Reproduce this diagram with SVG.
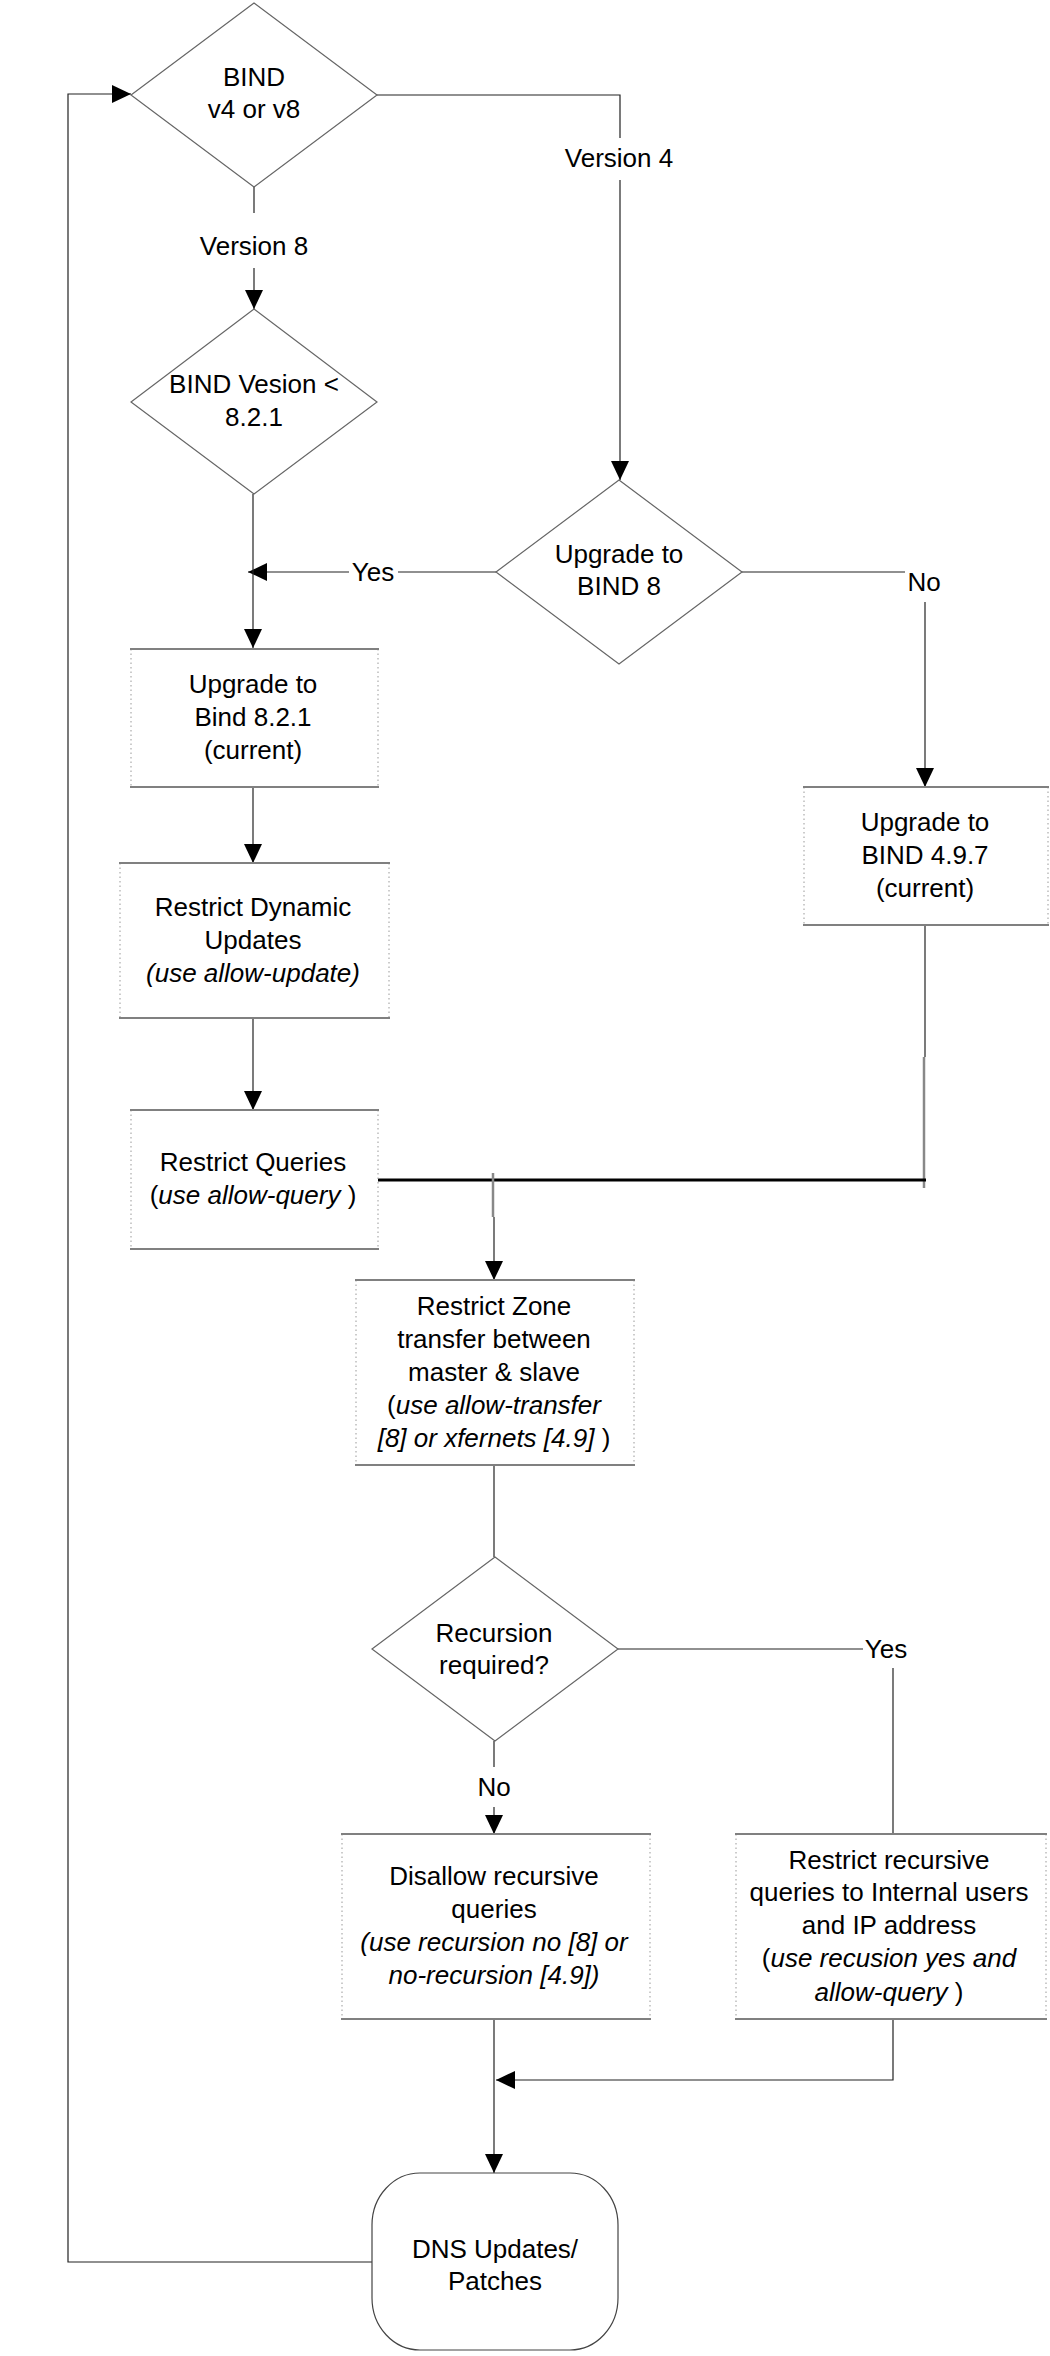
<svg xmlns="http://www.w3.org/2000/svg" width="1050" height="2356" viewBox="0 0 1050 2356">
<style>
text{font-family:"Liberation Sans",Arial,sans-serif;font-size:26px;fill:#000;text-anchor:middle}
.i{font-style:italic}
.dia{fill:#fff;stroke:#666;stroke-width:1.2}
.bx{fill:#fff;stroke:none}
.bt{stroke:#808080;stroke-width:2;fill:none}
.bs{stroke:#999;stroke-width:1;stroke-dasharray:1.5 3;fill:none}
.c{stroke:#222;stroke-width:1.2;fill:none}
.cg{stroke:#888;stroke-width:2.5;fill:none}
.ct{stroke:#000;stroke-width:3;fill:none}
.term{fill:#fff;stroke:#444;stroke-width:1.2}
</style>
<defs>
<marker id="ah" markerUnits="userSpaceOnUse" markerWidth="20" markerHeight="20" viewBox="0 0 20 20" refX="19" refY="10" orient="auto">
<path d="M0,1 L19,10 L0,19 Z" fill="#000"/>
</marker>
</defs>
<rect width="1050" height="2356" fill="#fff"/>

<g id="connectors">
<polyline class="c" points="377,95 620,95 620,138"/>
<line class="c" x1="620" y1="180" x2="620" y2="480" marker-end="url(#ah)"/>
<line class="c" x1="254" y1="187" x2="254" y2="213"/>
<line class="c" x1="254" y1="268" x2="254" y2="309" marker-end="url(#ah)"/>
<line class="c" x1="496" y1="572" x2="398" y2="572"/>
<line class="c" x1="349" y1="572" x2="248" y2="572" marker-end="url(#ah)"/>
<line class="c" x1="253" y1="494" x2="253" y2="648" marker-end="url(#ah)"/>
<line class="c" x1="742" y1="572" x2="905" y2="572"/>
<line class="c" x1="925" y1="602" x2="925" y2="787" marker-end="url(#ah)"/>
<line class="c" x1="253" y1="787" x2="253" y2="863" marker-end="url(#ah)"/>
<line class="c" x1="253" y1="1018" x2="253" y2="1110" marker-end="url(#ah)"/>
<line class="c" x1="925" y1="925" x2="925" y2="1057"/>
<line class="cg" x1="924" y1="1057" x2="924" y2="1188"/>
<line class="ct" x1="377" y1="1180" x2="926" y2="1180"/>
<line class="cg" x1="493" y1="1173" x2="493" y2="1217"/>
<line class="c" x1="494" y1="1217" x2="494" y2="1280" marker-end="url(#ah)"/>
<line class="c" x1="494" y1="1465" x2="494" y2="1557"/>
<line class="c" x1="618" y1="1649" x2="863" y2="1649"/>
<line class="c" x1="893" y1="1668" x2="893" y2="1834"/>
<line class="c" x1="494" y1="1741" x2="494" y2="1767"/>
<line class="c" x1="494" y1="1807" x2="494" y2="1834" marker-end="url(#ah)"/>
<line class="c" x1="494" y1="2019" x2="494" y2="2173" marker-end="url(#ah)"/>
<polyline class="c" points="893,2019 893,2080 496,2080" marker-end="url(#ah)"/>
<polyline class="c" points="372,2262 68,2262 68,94 131,94" marker-end="url(#ah)"/>
<text x="619" y="167">Version 4</text>
<text x="254" y="255">Version 8</text>
<text x="373" y="581">Yes</text>
<text x="924" y="591">No</text>
<text x="886" y="1658">Yes</text>
<text x="494" y="1796">No</text>
</g>

<g id="bind-version">
<polygon class="dia" points="254,3 377,95 254,187 131,95"/>
<text x="254" y="86">BIND</text>
<text x="254" y="118">v4 or v8</text>
</g>

<g id="bind-lt-821">
<polygon class="dia" points="254,309 377,402 254,494 131,402"/>
<text x="254" y="393">BIND Vesion &lt;</text>
<text x="254" y="426">8.2.1</text>
</g>

<g id="upgrade-bind8">
<polygon class="dia" points="619,480 742,572 619,664 496,572"/>
<text x="619" y="563">Upgrade to</text>
<text x="619" y="595">BIND 8</text>
</g>

<g id="upgrade-821">
<rect class="bx" x="131" y="649" width="247" height="138"/>
<line class="bs" x1="131" y1="649" x2="131" y2="787"/>
<line class="bs" x1="378" y1="649" x2="378" y2="787"/>
<line class="bt" x1="130" y1="649" x2="379" y2="649"/>
<line class="bt" x1="130" y1="787" x2="379" y2="787"/>
<text x="253" y="693">Upgrade to</text>
<text x="253" y="726">Bind 8.2.1</text>
<text x="253" y="759">(current)</text>
</g>

<g id="restrict-dynamic">
<rect class="bx" x="120" y="863" width="269" height="155"/>
<line class="bs" x1="120" y1="863" x2="120" y2="1018"/>
<line class="bs" x1="389" y1="863" x2="389" y2="1018"/>
<line class="bt" x1="119" y1="863" x2="390" y2="863"/>
<line class="bt" x1="119" y1="1018" x2="390" y2="1018"/>
<text x="253" y="916">Restrict Dynamic</text>
<text x="253" y="949">Updates</text>
<text x="253" y="982" class="i">(use allow-update)</text>
</g>

<g id="restrict-queries">
<rect class="bx" x="131" y="1110" width="247" height="139"/>
<line class="bs" x1="131" y1="1110" x2="131" y2="1249"/>
<line class="bs" x1="378" y1="1110" x2="378" y2="1249"/>
<line class="bt" x1="130" y1="1110" x2="379" y2="1110"/>
<line class="bt" x1="130" y1="1249" x2="379" y2="1249"/>
<text x="253" y="1171">Restrict Queries</text>
<text x="253" y="1204">(<tspan class="i">use allow-query</tspan> )</text>
</g>

<g id="upgrade-497">
<rect class="bx" x="804" y="787" width="244" height="138"/>
<line class="bs" x1="804" y1="787" x2="804" y2="925"/>
<line class="bs" x1="1048" y1="787" x2="1048" y2="925"/>
<line class="bt" x1="803" y1="787" x2="1049" y2="787"/>
<line class="bt" x1="803" y1="925" x2="1049" y2="925"/>
<text x="925" y="831">Upgrade to</text>
<text x="925" y="864">BIND 4.9.7</text>
<text x="925" y="897">(current)</text>
</g>

<g id="restrict-zone">
<rect class="bx" x="356" y="1280" width="278" height="185"/>
<line class="bs" x1="356" y1="1280" x2="356" y2="1465"/>
<line class="bs" x1="634" y1="1280" x2="634" y2="1465"/>
<line class="bt" x1="355" y1="1280" x2="635" y2="1280"/>
<line class="bt" x1="355" y1="1465" x2="635" y2="1465"/>
<text x="494" y="1315">Restrict Zone</text>
<text x="494" y="1348">transfer between</text>
<text x="494" y="1381">master &amp; slave</text>
<text x="494" y="1414">(<tspan class="i">use allow-transfer</tspan></text>
<text x="494" y="1447"><tspan class="i">[8] or xfernets [4.9]</tspan> )</text>
</g>

<g id="recursion-required">
<polygon class="dia" points="495,1557 618,1649 495,1741 372,1649"/>
<text x="494" y="1642">Recursion</text>
<text x="494" y="1674">required?</text>
</g>

<g id="disallow-recursive">
<rect class="bx" x="342" y="1834" width="308" height="185"/>
<line class="bs" x1="342" y1="1834" x2="342" y2="2019"/>
<line class="bs" x1="650" y1="1834" x2="650" y2="2019"/>
<line class="bt" x1="341" y1="1834" x2="651" y2="1834"/>
<line class="bt" x1="341" y1="2019" x2="651" y2="2019"/>
<text x="494" y="1885">Disallow recursive</text>
<text x="494" y="1918">queries</text>
<text x="494" y="1951" class="i">(use recursion no [8] or</text>
<text x="494" y="1984" class="i">no-recursion [4.9])</text>
</g>

<g id="restrict-recursive">
<rect class="bx" x="736" y="1834" width="310" height="185"/>
<line class="bs" x1="736" y1="1834" x2="736" y2="2019"/>
<line class="bs" x1="1046" y1="1834" x2="1046" y2="2019"/>
<line class="bt" x1="735" y1="1834" x2="1047" y2="1834"/>
<line class="bt" x1="735" y1="2019" x2="1047" y2="2019"/>
<text x="889" y="1869">Restrict recursive</text>
<text x="889" y="1901">queries to Internal users</text>
<text x="889" y="1934">and IP address</text>
<text x="889" y="1967">(<tspan class="i">use recusion yes and</tspan></text>
<text x="889" y="2001"><tspan class="i">allow-query</tspan> )</text>
</g>

<g id="dns-updates">
<rect class="term" x="372" y="2173" width="246" height="177" rx="48" ry="52"/>
<text x="495" y="2258">DNS Updates/</text>
<text x="495" y="2290">Patches</text>
</g>
</svg>
